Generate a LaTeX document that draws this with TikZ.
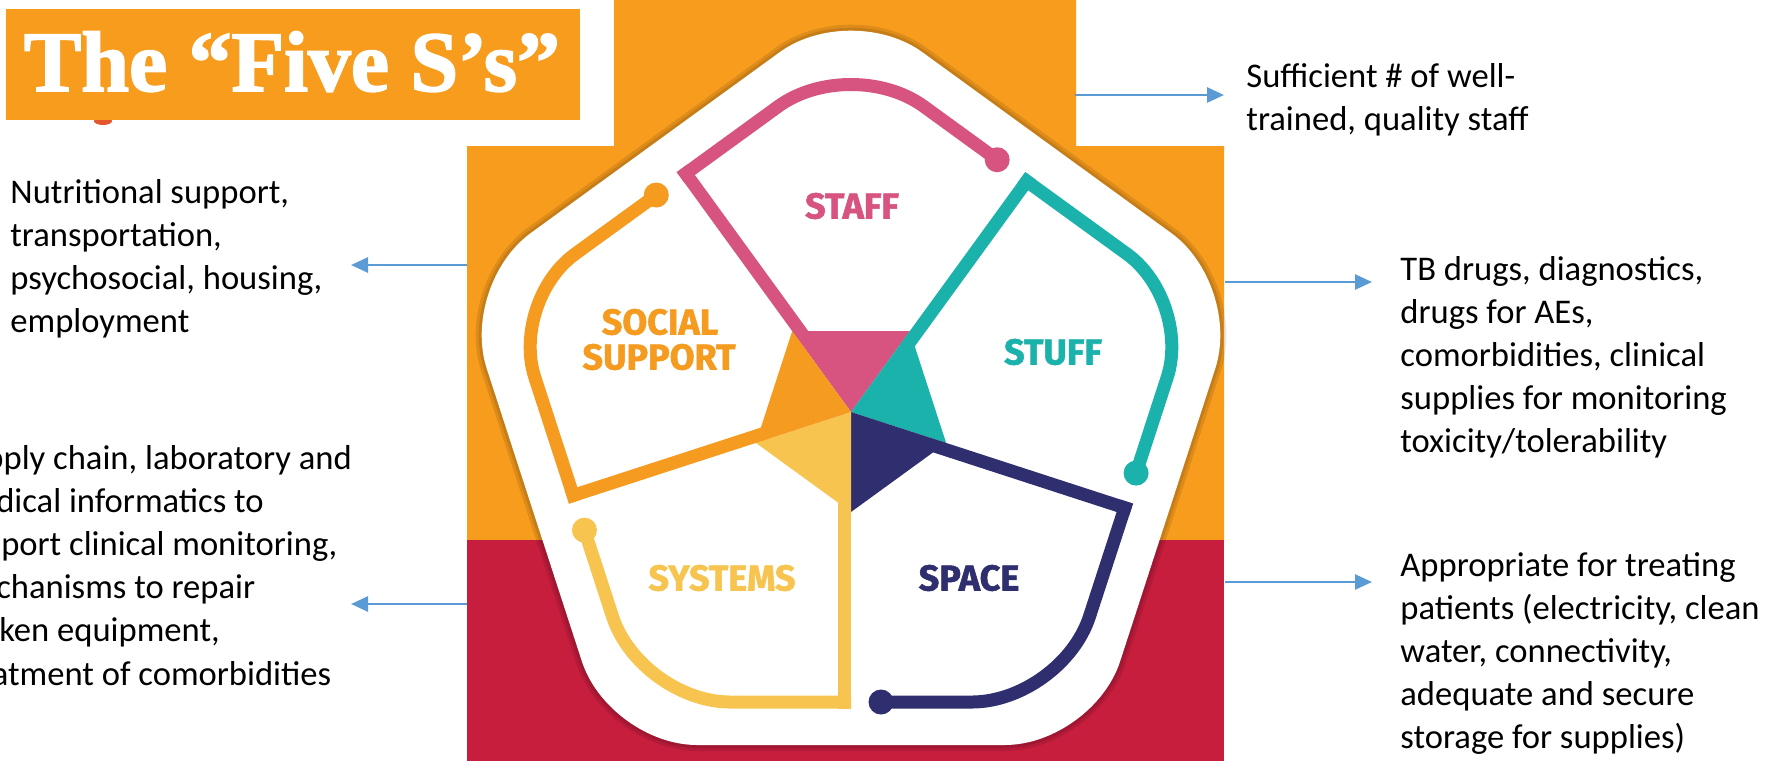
\documentclass[tikz,border=0pt]{standalone}
\usepackage{fontspec}
\usepackage{graphicx}
\setmainfont{Carlito}
\newfontfamily\titlefont{Liberation Serif}[BoldFeatures={FakeBold=2}]
\newfontfamily\lblfont{Fira Sans}[BoldFeatures={FakeBold=1.5}]
\usetikzlibrary{arrows.meta,calc}
\definecolor{bgorange}{HTML}{F79C1D}
\definecolor{bgred}{HTML}{C81E3E}
\definecolor{cpink}{HTML}{D6547F}
\definecolor{cteal}{HTML}{1BB2AC}
\definecolor{cnavy}{HTML}{2F2E6E}
\definecolor{cyellow}{HTML}{F8C450}
\definecolor{corange}{HTML}{F49B20}
\definecolor{arrblue}{HTML}{5B9BD5}
\definecolor{dotred}{HTML}{E4572E}
\tikzset{
  desc/.style={anchor=base west, inner sep=0pt, font=\fontsize{17.3}{21.6}\selectfont, text=black},
  arr/.style={draw=arrblue, line width=1.35pt, -{Triangle[length=8.5pt,width=7.5pt]}},
  sectorline/.style={line width=6.5pt, line cap=rect},
  lbl/.style={inner sep=0pt, font=\lblfont\bfseries\fontsize{18}{18}\selectfont},
}
\newcommand\txtlines[1]{\vtop{\baselineskip=21.6pt\lineskiplimit=-50pt\lineskip=0pt #1}}
\newcommand\drawsector[4]{%
  \coordinate (#3s) at ($(C)+({#1+36}:92)+({#1-54}:6.5)$);
  \coordinate (#3k) at ($(C)+({#1+36}:290)+({#1-54}:6.5)$);
  \coordinate (#3v) at ($(C)+(#1:358.5)$);
  \coordinate (#3d) at ($(C)+({#1-36}:290)+({#1+54}:30)$);
  \draw[sectorline,draw=#2] (#3s) -- (#3k);
  \draw[sectorline,draw=#2,rounded corners=#4] (#3k) -- (#3v) -- (#3d);
  \fill[#2] (#3d) circle (12.5);
}
\newcommand\drawkite[2]{%
  \fill[#2] (C) -- ($(C)+({#1+36}:100)$) -- ($(C)+({#1-36}:100)$) -- cycle;
}
\begin{document}
\begin{tikzpicture}[x=0.5pt,y=0.5pt]
\useasboundingbox (0,0) rectangle (1777,-761);
\clip (0,0) rectangle (1777,-761);
\fill[white] (0,0) rectangle (1777,-761);
% title
\fill[dotred] (103,-121) ellipse (9 and 4);
\fill[bgorange] (6,-9) rectangle (580,-120);
\node[anchor=base, text=white, inner sep=0pt] (title) at (292,-91)
  {\resizebox{268pt}{!}{\titlefont\bfseries The “Five S’s”}};
% picture background
\fill[bgorange] (614,0) -- (1076,0) -- (1076,-146) -- (1224,-146) -- (1224,-540)
  -- (467,-540) -- (467,-146) -- (614,-146) -- cycle;
\fill[bgred] (467,-540) rectangle (1224,-761);
\coordinate (C) at (851,-412);
% shadow and white pentagon
\draw[rounded corners=44pt, draw=black, opacity=0.10, line width=6pt]
  ($(C)+(-90:333)$) -- ($(C)+(-54:411.6)$) -- ($(C)+(18:411.6)$) -- ($(C)+(90:411.6)$)
  -- ($(C)+(162:411.6)$) -- ($(C)+(-126:411.6)$) -- cycle;
\draw[rounded corners=44pt, draw=black, opacity=0.10, line width=3pt]
  ($(C)+(-90:333)$) -- ($(C)+(-54:411.6)$) -- ($(C)+(18:411.6)$) -- ($(C)+(90:411.6)$)
  -- ($(C)+(162:411.6)$) -- ($(C)+(-126:411.6)$) -- cycle;
\fill[white, rounded corners=44pt]
  ($(C)+(-90:333)$) -- ($(C)+(-54:411.6)$) -- ($(C)+(18:411.6)$) -- ($(C)+(90:411.6)$)
  -- ($(C)+(162:411.6)$) -- ($(C)+(-126:411.6)$) -- cycle;
% sector lines
\drawsector{90}{cpink}{staff}{45pt}
\drawsector{18}{cteal}{stuff}{40pt}
\drawsector{-54}{cnavy}{space}{45pt}
\drawsector{-126}{cyellow}{sys}{45pt}
\drawsector{162}{corange}{soc}{40pt}
% centre kites
\drawkite{90}{cpink}
\drawkite{18}{cteal}
\drawkite{-54}{cnavy}
\drawkite{-126}{cyellow}
\drawkite{162}{corange}
% labels
\node[lbl, text=cpink] (lStaff) at (852,-206) {STAFF};
\node[lbl, text=cteal] (lStuff) at (1053,-352) {STUFF};
\node[lbl, text=corange] (lSocA) at (660,-322) {SOCIAL};
\node[lbl, text=corange] (lSocB) at (659,-357) {SUPPORT};
\node[lbl, text=cyellow] (lSys) at (722,-578) {SYSTEMS};
\node[lbl, text=cnavy] (lSpace) at (969,-578) {SPACE};
% descriptions
\node[desc] (tStaff) at (1246,-87) {\txtlines{\hbox{Sufficient \# of well-}\hbox{trained, quality staff}}};
\node[desc] (tStuff) at (1400,-280) {\txtlines{\hbox{TB drugs, diagnostics,}\hbox{drugs for AEs,}\hbox{comorbidities, clinical}\hbox{supplies for monitoring}\hbox{toxicity/tolerability}}};
\node[desc] (tSpace) at (1400,-576) {\txtlines{\hbox{Appropriate for treating}\hbox{patients (electricity, clean}\hbox{water, connectivity,}\hbox{adequate and secure}\hbox{storage for supplies)}}};
\node[desc] (tSoc) at (10,-203) {\txtlines{\hbox{Nutritional support,}\hbox{transportation,}\hbox{psychosocial, housing,}\hbox{employment}}};
\node[desc] (tSys) at (-49,-469) {\txtlines{\hbox{Supply chain, laboratory and}\hbox{medical informatics to}\hbox{support clinical monitoring,}\hbox{mechanisms to repair}\hbox{broken equipment,}\hbox{treatment of comorbidities}}};
% arrows
\coordinate (aStaffA) at (1075,-95);  \coordinate (aStaffB) at (1224,-95);
\coordinate (aStuffA) at (1225,-282); \coordinate (aStuffB) at (1372,-282);
\coordinate (aSpaceA) at (1225,-582); \coordinate (aSpaceB) at (1372,-582);
\coordinate (aSocA) at (467,-265);    \coordinate (aSocB) at (351,-265);
\coordinate (aSysA) at (467,-604);    \coordinate (aSysB) at (351,-604);
\draw[arr] (aStaffA) -- (aStaffB);
\draw[arr] (aStuffA) -- (aStuffB);
\draw[arr] (aSpaceA) -- (aSpaceB);
\draw[arr] (aSocA) -- (aSocB);
\draw[arr] (aSysA) -- (aSysB);
\end{tikzpicture}
\end{document}
